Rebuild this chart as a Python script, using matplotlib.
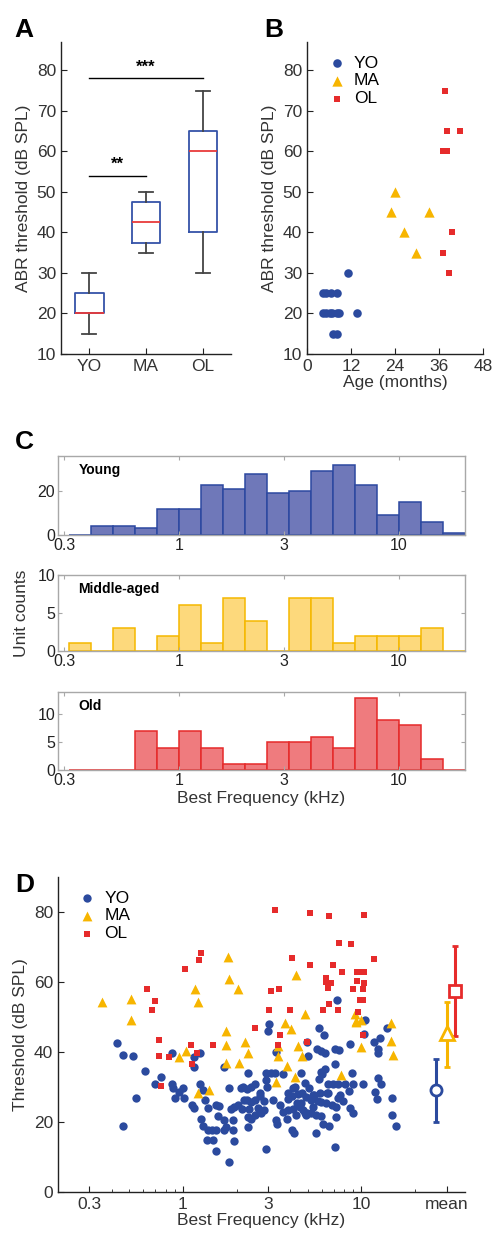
import numpy as np
import matplotlib
matplotlib.use('Agg')
import matplotlib.pyplot as plt
from matplotlib.ticker import NullFormatter, FixedLocator

plt.rcParams['font.family'] = ['Liberation Sans', 'DejaVu Sans']
plt.rcParams['axes.linewidth'] = 1.0
plt.rcParams['xtick.direction'] = 'in'
plt.rcParams['ytick.direction'] = 'in'

# colours
BLUE = '#2B4A9E'
YELLOW = '#F7B500'
RED = '#E62B2B'
TXT = '#333333'

# ---- panel A: ABR thresholds per group (box stats)
groups = ['YO', 'MA', 'OL']
box_q1 = [20, 37.5, 40]
box_med = [20, 42.5, 60]
box_q3 = [25, 47.5, 65]
box_lo = [15, 35, 30]
box_hi = [30, 50, 75]

# ---- panel B: threshold vs age
yo_age = [4.3, 5.2, 6.6, 8.3, 4.3, 5.2, 6.3, 6.9, 8.3, 8.8, 7.0, 8.3, 11.3, 13.6]
yo_abr = [25, 25, 25, 25, 20, 20, 20, 20, 20, 20, 15, 15, 30, 20]
ma_age = [23.0, 24.0, 26.5, 29.6, 33.3]
ma_abr = [45, 50, 40, 35, 45]
ol_age = [37.6, 37.0, 38.3, 38.3, 41.7, 39.5, 37.2, 38.8]
ol_abr = [75, 60, 60, 65, 65, 40, 35, 30]

# ---- panel C: BF histograms (edges 10^-0.5 .. 10^1.3, 0.1 decade)
bin_edges = 10 ** np.linspace(-0.5, 1.3, 19)
young_counts = [0, 4, 4, 3, 12, 12, 23, 21, 28, 19, 20, 29, 32, 23, 9, 15, 6, 1]
middle_counts = [1, 0, 3, 0, 2, 6, 1, 7, 4, 0, 7, 7, 1, 2, 2, 2, 3, 0]
old_counts = [0, 0, 0, 7, 4, 7, 4, 1, 1, 5, 5, 6, 4, 13, 9, 8, 2, 0]

# ---- panel D: unit thresholds vs best frequency
yo_bf = [0.426, 0.46, 0.528, 0.612, 0.545, 0.464, 0.702, 0.759, 0.867, 0.879,
         0.902, 0.953, 1.0, 1.01, 0.871, 1.15, 1.157, 1.25, 1.24, 1.29,
         1.12, 1.16, 1.26, 1.295, 1.36, 1.377, 1.33, 1.38, 1.47, 1.45,
         1.53, 1.53, 1.53, 1.57, 1.6, 1.69, 1.71, 1.69, 1.74, 1.82,
         1.82, 1.85, 1.92, 1.92, 1.93, 1.94, 2.03, 2.12, 2.14, 2.18,
         2.29, 2.28, 2.33, 2.33, 2.31,
         3.05, 2.99, 3.33, 5.0, 3.12, 3.29, 3.63, 4.6, 2.93, 4.13,
         4.84, 2.52, 2.72, 2.96, 3.9, 4.07, 4.44, 4.9, 2.41, 2.54,
         2.83, 2.36, 2.63, 2.86, 3.19, 3.63, 4.13, 4.6, 4.7, 4.97,
         2.41, 2.74, 3.33, 3.84, 4.31, 3.37,
         5.78, 6.17, 7.33, 4.97, 5.66, 5.9, 6.28, 7.07, 7.5, 8.66,
         10.5, 10.4, 13.9, 12.7, 11.7, 12.4, 12.4, 7.07, 6.23, 2.92,
         5.96, 6.05, 8.9, 4.27, 5.75, 6.5, 6.93, 7.4, 8.05, 8.98,
         10.2, 12.3, 12.8, 8.5, 7.6, 11.9, 12.2, 14.9, 14.9, 15.7,
         3.87, 4.67, 5.35, 5.84, 6.43, 7.4, 7.9, 5.71, 6.36, 7.23,
         8.58, 8.98, 4.5, 5.35, 3.87, 4.9, 5.58, 6.1, 6.55, 7.23,
         4.07, 4.17, 5.58, 7.07, 2.92, 2.52, 2.21, 2.41, 5.23, 5.9,
         4.84, 5.23, 5.96, 5.45, 6.5, 3.5, 4.35, 5.1, 6.8, 2.7]
yo_thr = [42.5, 39.1, 38.9, 34.7, 26.9, 19.0, 30.8, 32.9, 31.0, 29.7,
          26.9, 28.7, 29.8, 26.9, 39.8, 38.7, 35.6, 39.8, 31.0, 29.1,
          24.9, 23.9, 20.9, 18.9, 14.9, 17.7, 26.3, 23.9, 14.9, 17.7,
          17.7, 11.8, 24.9, 21.7, 24.7, 20.6, 17.7, 35.8, 18.7, 29.6,
          8.5, 23.6, 20.6, 17.7, 14.7, 24.4, 24.9, 29.6, 23.6, 30.1,
          29.5, 26.3, 33.9, 21.5, 18.7,
          47.9, 46.0, 40.1, 38.9, 34.1, 33.9, 33.7, 34.1, 32.0, 29.6,
          31.2, 30.9, 28.2, 30.1, 26.5, 27.4, 28.0, 27.2, 25.8, 26.3,
          26.0, 23.6, 23.9, 23.4, 26.3, 22.9, 23.6, 25.3, 23.4, 22.7,
          20.8, 22.5, 20.6, 21.0, 22.0, 19.3,
          46.9, 45.0, 55.0, 43.0, 40.9, 40.4, 39.8, 41.0, 40.6, 42.3,
          49.1, 45.1, 47.0, 43.9, 43.0, 40.8, 39.8, 36.6, 35.1, 33.9,
          34.3, 33.6, 33.9, 30.1, 32.3, 31.0, 31.0, 31.0, 31.0, 31.0,
          31.0, 32.5, 30.9, 28.9, 27.8, 28.5, 26.6, 26.9, 22.0, 19.0,
          28.2, 28.2, 27.7, 28.2, 28.2, 27.0, 26.1, 26.1, 25.5, 24.4,
          23.9, 22.7, 24.4, 24.4, 23.4, 22.0, 22.0, 19.3, 19.0, 21.5,
          17.7, 16.8, 16.8, 12.9, 12.2, 22.0, 26.3, 30.1, 26.3, 25.8,
          22.5, 22.5, 21.7, 27.7, 28.2, 24.8, 25.5, 29.8, 25.0, 27.5]
ma_bf = [0.351, 0.512, 0.512, 1.168, 1.22, 1.79, 1.81, 2.03, 1.74, 1.75,
         1.75, 2.05, 2.23, 2.31, 1.04, 0.953, 1.22, 1.405,
         4.3, 4.83, 3.71, 4.01, 3.4, 3.43, 4.44, 4.64, 3.82, 4.24, 3.32,
         7.72, 9.17, 9.37, 9.9, 10.0, 14.6, 14.6, 15.0, 9.37]
ma_thr = [54.2, 55.1, 49.1, 58.0, 54.2, 67.1, 61.0, 57.9, 46.1, 42.0,
          36.9, 36.9, 43.0, 39.8, 40.4, 38.7, 28.2, 29.1,
          61.9, 51.0, 48.2, 46.5, 41.8, 38.9, 41.8, 38.9, 36.1, 32.9, 31.5,
          33.4, 50.8, 48.9, 49.1, 41.5, 48.2, 43.2, 39.2, 48.7]
ol_bf = [0.634, 0.699, 0.676, 0.74, 0.74, 0.838, 0.752, 1.026, 1.225, 1.267,
         1.109, 1.198, 1.119, 1.474,
         3.29, 5.12, 4.1, 5.12, 3.12, 3.47, 3.05, 3.99, 2.52, 3.49, 3.4, 4.97,
         6.55, 10.36, 7.5, 8.71, 11.8, 6.9, 7.75, 9.41, 9.79, 10.4,
         6.3, 6.3, 6.77, 6.46, 9.5, 10.36, 8.98, 10.2, 9.79, 10.2,
         6.6, 6.1, 7.4, 9.6, 10.2]
ol_thr = [57.9, 54.7, 52.0, 43.4, 38.9, 38.7, 30.3, 63.7, 66.3, 68.4,
          42.0, 39.8, 36.6, 42.0,
          80.6, 79.8, 66.9, 65.0, 57.4, 57.9, 52.0, 52.0, 47.0, 44.9, 42.0, 43.0,
          78.9, 79.1, 71.2, 71.0, 66.6, 64.8, 62.9, 63.0, 62.9, 62.9,
          61.2, 60.1, 59.6, 58.3, 60.2, 59.8, 57.9, 57.9, 54.9, 54.9,
          53.6, 52.0, 52.0, 51.3, 44.9]
mean_thr = [29.1, 45.4, 57.4]
mean_lo = [20.0, 35.7, 44.6]
mean_hi = [38.0, 54.3, 70.3]

W, H = 496, 1241
fig = plt.figure(figsize=(W / 100, H / 100), dpi=100)


def ax_px(left, top, right, bottom):
    return fig.add_axes([left / W, 1 - bottom / H, (right - left) / W, (bottom - top) / H])


def style_open(ax):
    ax.spines['top'].set_visible(False)
    ax.spines['right'].set_visible(False)
    for s in ('left', 'bottom'):
        ax.spines[s].set_color('#222222')
    ax.tick_params(colors='#222222', labelcolor=TXT, labelsize=12.5, length=4)


# ---------------- A
axA = ax_px(61, 42, 231, 354)
stats = [dict(q1=box_q1[i], med=box_med[i], q3=box_q3[i], whislo=box_lo[i],
              whishi=box_hi[i], fliers=[], label=groups[i]) for i in range(3)]
axA.bxp(stats, positions=[1, 2, 3], widths=0.5, showfliers=False,
        boxprops=dict(color='#3553A8', lw=1.3),
        medianprops=dict(color='#E83A3A', lw=1.3),
        whiskerprops=dict(color='#444444', lw=1.3),
        capprops=dict(color='#444444', lw=1.3))
axA.set_xlim(0.5, 3.5)
axA.set_ylim(10, 87)
axA.set_yticks(range(10, 81, 10))
axA.set_ylabel('ABR threshold (dB SPL)', fontsize=12.5, color=TXT, labelpad=4)
style_open(axA)
axA.plot([1, 2], [54, 54], color='k', lw=1)
axA.text(1.5, 55, '**', ha='center', va='bottom', fontsize=12, fontweight='bold')
axA.plot([1, 3], [78, 78], color='k', lw=1)
axA.text(2, 79, '***', ha='center', va='bottom', fontsize=12, fontweight='bold')

# ---------------- B
axB = ax_px(307, 42, 483, 354)
axB.scatter(yo_age, yo_abr, s=38, color=BLUE, marker='o', label='YO', lw=0)
axB.scatter(ma_age, ma_abr, s=55, color=YELLOW, marker='^', label='MA', lw=0)
axB.scatter(ol_age, ol_abr, s=18, color=RED, marker='s', label='OL', lw=0)
axB.set_xlim(0, 48)
axB.set_ylim(10, 87)
axB.set_xticks([0, 12, 24, 36, 48])
axB.set_yticks(range(10, 81, 10))
axB.set_ylabel('ABR threshold (dB SPL)', fontsize=12.5, color=TXT, labelpad=4)
axB.set_xlabel('Age (months)', fontsize=12.5, color=TXT, labelpad=1)
style_open(axB)
axB.legend(loc='upper left', bbox_to_anchor=(0.05, 0.99), frameon=False, fontsize=12.5,
           handletextpad=0.4, labelspacing=0.15, borderaxespad=0.2, handlelength=1.2)

# ---------------- C
hist_specs = [
    (young_counts, 456, 535, '#6F78B9', '#2C48A0', 'Young', (0, 36), [0, 20]),
    (middle_counts, 575, 651, '#FDD97C', '#F5B800', 'Middle-aged', (0, 10), [0, 5, 10]),
    (old_counts, 692, 770, '#EF7B7E', '#E52A2A', 'Old', (0, 14), [0, 5, 10]),
]
axes_c = []
for counts, top, bot, fc, ec, name, yl, yt in hist_specs:
    ax = ax_px(58, top, 465, bot)
    ax.bar(bin_edges[:-1], counts, width=np.diff(bin_edges), align='edge',
           color=fc, edgecolor=ec, lw=1.1)
    ax.set_xscale('log')
    ax.set_xlim(0.281, 20)
    ax.set_ylim(*yl)
    ax.set_yticks(yt)
    ax.xaxis.set_major_locator(FixedLocator([0.3, 1, 3, 10]))
    ax.set_xticklabels(['0.3', '1', '3', '10'])
    ax.xaxis.set_minor_locator(FixedLocator([]))
    for s in ax.spines.values():
        s.set_color('#A8A8A8')
    ax.tick_params(top=True, right=True, colors='#A8A8A8', labelcolor='#222222',
                   labelsize=11.5, length=3, pad=2)
    ax.text(0.05, 0.82, name, transform=ax.transAxes, fontsize=10, fontweight='bold',
            va='center', ha='left')
    axes_c.append(ax)
axes_c[1].set_ylabel('Unit counts', fontsize=12.5, color=TXT, labelpad=6)
axes_c[2].set_xlabel('Best Frequency (kHz)', fontsize=12.5, color=TXT, labelpad=2)

# ---------------- D
axD = ax_px(58, 877, 465, 1192)
axD.scatter(yo_bf, yo_thr, s=36, color=BLUE, marker='o', label='YO', lw=0)
axD.scatter(ma_bf, ma_thr, s=50, color=YELLOW, marker='^', label='MA', lw=0)
axD.scatter(ol_bf, ol_thr, s=16, color=RED, marker='s', label='OL', lw=0)
mean_x = 30 * np.array([0.87, 1.0, 1.12])
mean_marks = ['o', '^', 's']
mean_cols = [BLUE, YELLOW, RED]
mean_ms = [8, 10, 8]
for i in range(3):
    axD.errorbar(mean_x[i], mean_thr[i],
                 yerr=[[mean_thr[i] - mean_lo[i]], [mean_hi[i] - mean_thr[i]]],
                 fmt=mean_marks[i], color=mean_cols[i], mfc='white', mec=mean_cols[i],
                 ms=mean_ms[i], mew=2, elinewidth=2.2, capsize=2.5, capthick=2.2)
axD.set_xscale('log')
axD.set_xlim(0.2, 38)
axD.set_ylim(0, 90)
axD.set_yticks([0, 20, 40, 60, 80])
axD.xaxis.set_major_locator(FixedLocator([0.3, 1, 3, 10, 30]))
axD.set_xticklabels(['0.3', '1', '3', '10', 'mean'])
axD.xaxis.set_minor_locator(FixedLocator([0.2, 0.4, 0.5, 0.6, 0.7, 0.8, 0.9,
                                          2, 4, 5, 6, 7, 8, 9, 20]))
axD.xaxis.set_minor_formatter(NullFormatter())
style_open(axD)
axD.tick_params(which='minor', length=2, colors='#222222')
axD.set_ylabel('Threshold (dB SPL)', fontsize=12.5, color=TXT, labelpad=4)
axD.set_xlabel('Best Frequency (kHz)', fontsize=12.5, color=TXT, labelpad=1)
axD.legend(loc='upper left', bbox_to_anchor=(0.02, 0.99), frameon=False, fontsize=12.5,
           handletextpad=0.4, labelspacing=0.15, borderaxespad=0.2, handlelength=1.2)

# panel letters
for letter, x, y in [('A', 14, 37), ('B', 264, 37), ('C', 15, 449), ('D', 15, 892)]:
    fig.text(x / W, 1 - y / H, letter, fontsize=19, fontweight='bold', ha='left', va='baseline')

fig.savefig('out.png', dpi=100)
